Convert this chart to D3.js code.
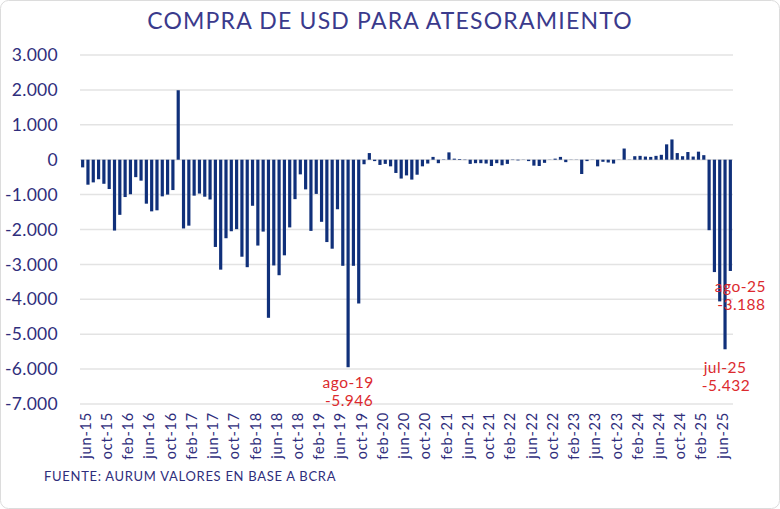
<!DOCTYPE html>
<html><head><meta charset="utf-8">
<script src="https://cdn.jsdelivr.net/npm/d3@7"></script>
<style>
html,body{margin:0;padding:0;background:#fff;}
svg{display:block;font-family:Lato,"Open Sans",sans-serif;}
</style></head><body>
<svg id="c" width="780" height="509"></svg>
<script>
const monthNames = ["jun","jul","ago","sep","oct","nov","dic","ene","feb","mar","abr","may"];
const startYear = 15;
const values = [
 -220,-716,-650,-560,-690,-840,-2030,-1580,-1070,-990,-500,-600,
 -1260,-1480,-1450,-1050,-1000,-870,1990,-1970,-1890,-1030,-970,-1060,
 -1140,-2500,-3150,-2250,-2050,-1990,-2780,-3080,-1320,-2460,-2060,-4530,
 -3030,-3310,-2740,-1940,-1130,-420,-850,-2040,-980,-1780,-2360,-2550,
 -1420,-3040,-5946,-3040,-4120,-130,190,-40,-150,-120,-190,-380,
 -540,-450,-570,-430,-190,-110,80,-100,10,210,30,20,
 -10,-120,-100,-100,-110,-180,-100,-160,-120,-10,-20,5,
 -40,-170,-180,-90,5,30,80,-70,5,5,-410,-40,
 5,-190,-60,-80,-110,5,320,5,100,110,90,80,
 110,140,440,580,190,100,220,90,230,130,-2020,-3220,
 -4060,-5432,-3188
];
const categories = values.map((v,i)=>{
  const m = i % 12;
  const yr = startYear + Math.floor((i + 5) / 12);
  return monthNames[m] + "-" + String(yr).padStart(2,"0");
});
const yTicks = [3000,2000,1000,0,-1000,-2000,-3000,-4000,-5000,-6000,-7000];
const tickLabels = categories.filter((c,i)=> i % 4 === 0);
const annotations = [
  {cat:"ago-19", label:"ago-19", value:"-5.946", dx:0, dy1:21, dy2:39},
  {cat:"jul-25", label:"jul-25", value:"-5.432", dx:0, dy1:24, dy2:42},
  {cat:"ago-25", label:"ago-25", value:"-3.188", dx:10, dy1:21, dy2:39}
];

const svg = d3.select("#c");
const navy = "#2f2e7c";
const barColor = "#10307a";
const red = "#dc2a2e";

svg.append("rect").attr("x",0.5).attr("y",0.5).attr("width",779).attr("height",508)
  .attr("rx",8).attr("fill","#fff").attr("stroke","#dcdcdc");

const x = d3.scaleBand().domain(categories).range([80,733]).paddingInner(0.4).paddingOuter(0.2);
const y = d3.scaleLinear().domain([-7000,3000]).range([404,55]);

const loc = d3.formatLocale({decimal:",",thousands:".",grouping:[3],currency:["",""],minus:"-"});
const fmt = loc.format(",d");

// grid
svg.append("g").selectAll("line").data(yTicks).join("line")
  .attr("x1",80).attr("x2",733).attr("y1",d=>y(d)).attr("y2",d=>y(d))
  .attr("stroke","#e3e3e3").attr("stroke-width",1.5);

// y axis labels
const yAxis = d3.axisLeft(y).tickValues(yTicks).tickFormat(fmt).tickSize(0).tickPadding(0);
const yg = svg.append("g").attr("transform","translate(58,0)").call(yAxis);
yg.select(".domain").remove();
yg.selectAll("text").attr("fill",navy).attr("font-size",17.5).attr("font-family","Lato, sans-serif")
  .attr("letter-spacing",0.3);

// bars
svg.append("g").selectAll("rect").data(values).join("rect")
  .attr("x",(d,i)=>x(categories[i]))
  .attr("width",x.bandwidth())
  .attr("y",d=>y(Math.max(0,d)))
  .attr("height",d=>Math.abs(y(d)-y(0)))
  .attr("fill",barColor);

// x axis labels
const xAxis = d3.axisBottom(x).tickValues(tickLabels).tickSize(0).tickPadding(0);
const xg = svg.append("g").attr("transform","translate(0,408)").call(xAxis);
xg.select(".domain").remove();
xg.selectAll("text")
  .attr("fill",navy).attr("font-size",14.5).attr("font-family","Lato, sans-serif")
  .attr("letter-spacing",0.8)
  .attr("text-anchor","end")
  .attr("transform","rotate(-90)")
  .attr("x",-4).attr("y",0).attr("dy","0.55em");

// annotations
const ann = svg.append("g").attr("fill",red).attr("font-size",15.5).attr("text-anchor","middle")
  .attr("letter-spacing",0.5);
annotations.forEach(a=>{
  const i = categories.indexOf(a.cat);
  const cx = x(a.cat)+x.bandwidth()/2 + a.dx;
  const yy = y(values[i]);
  ann.append("text").attr("x",cx).attr("y",yy+a.dy1).text(a.label);
  ann.append("text").attr("x",cx+1).attr("y",yy+a.dy2).text(a.value);
});

// title
svg.append("text").attr("x",390).attr("y",29).attr("text-anchor","middle")
  .attr("fill","#3a3a8c").attr("font-size",23).attr("letter-spacing",1.2)
  .text("COMPRA DE USD PARA ATESORAMIENTO");

// source
svg.append("text").attr("x",44).attr("y",481).attr("fill",navy).attr("font-size",13)
  .attr("letter-spacing",0.7)
  .text("FUENTE: AURUM VALORES EN BASE A BCRA");
</script>
</body></html>
